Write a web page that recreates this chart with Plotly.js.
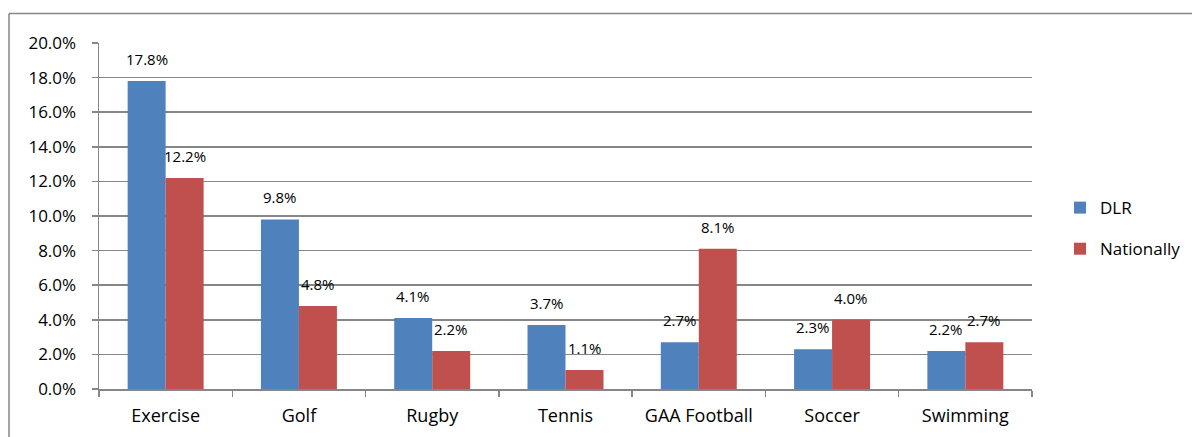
<!DOCTYPE html>
<html>
<head>
<meta charset="utf-8">
<script src="https://cdn.plot.ly/plotly-3.0.1.min.js"></script>
<style>html,body{margin:0;padding:0;background:#fff;}#chart{width:1192px;height:437px;}</style>
</head>
<body>
<div id="chart"></div>
<script>
const categories = ["Exercise", "Golf", "Rugby", "Tennis", "GAA Football", "Soccer", "Swimming"];
const dlr = [17.8, 9.8, 4.1, 3.7, 2.7, 2.3, 2.2];
const nationally = [12.2, 4.8, 2.2, 1.1, 8.1, 4.0, 2.7];
const seriesNames = ["DLR", "Nationally"];
const yTickValues = [0, 2, 4, 6, 8, 10, 12, 14, 16, 18, 20];

const FONT = "Open Sans, Liberation Sans, sans-serif";
const colors = ["#4F81BD", "#C0504D"];

const traces = [dlr, nationally].map((vals, i) => ({
  type: "bar",
  name: seriesNames[i],
  x: categories,
  y: vals,
  marker: {color: colors[i], line: {width: 0}},
  legendgroup: "g" + i,
  hoverinfo: "none"
}));

const annotations = [];
[dlr, nationally].forEach((vals, i) => {
  vals.forEach((v, j) => {
    annotations.push({
      x: categories[j], y: v, xref: "x", yref: "y",
      text: v.toFixed(1) + "%", showarrow: false,
      xshift: i === 0 ? -19 : 19, yshift: 22, yanchor: "middle",
      font: {family: FONT, size: 15, color: "#000"}
    });
  });
});

const layout = {
  width: 1192, height: 437,
  margin: {l: 99, r: 160, t: 43, b: 47.5, pad: 0, autoexpand: false},
  paper_bgcolor: "#fff", plot_bgcolor: "#fff",
  barmode: "group", bargap: 0.43, bargroupgap: 0,
  showlegend: true,
  legend: {x: 1.03, y: 0.575, xanchor: "left", yanchor: "top",
    font: {family: FONT, size: 17, color: "#000"}, tracegroupgap: 16,
    bgcolor: "rgba(0,0,0,0)"},
  xaxis: {
    type: "category", tickson: "boundaries", ticks: "outside", ticklen: 6,
    tickcolor: "#868686", tickwidth: 1.5,
    showline: true, linecolor: "#868686", linewidth: 1.5,
    showgrid: false, zeroline: false, ticklabelstandoff: 10,
    tickfont: {family: FONT, size: 18, color: "#000"},
    fixedrange: true
  },
  yaxis: {
    range: [0, 20], tickvals: yTickValues,
    ticktext: yTickValues.map(v => v.toFixed(1) + "%"),
    ticks: "outside", ticklen: 6, tickcolor: "#868686", tickwidth: 1.5,
    showline: true, linecolor: "#868686", linewidth: 1.5,
    showgrid: true, gridcolor: "#868686", gridwidth: 1.5,
    zeroline: false, ticklabelstandoff: 12,
    tickfont: {family: FONT, size: 17, color: "#000"},
    fixedrange: true
  },
  annotations: annotations,
  shapes: [
    {type: "line", xref: "paper", yref: "paper", x0: (9 - 99) / 933, x1: (9 - 99) / 933,
     y0: 1 + (43 - 13.5) / 346.5, y1: -0.2, line: {color: "#868686", width: 1.5}},
    {type: "line", xref: "paper", yref: "paper", x0: (9 - 99) / 933, x1: 1.3,
     y0: 1 + (43 - 13.5) / 346.5, y1: 1 + (43 - 13.5) / 346.5, line: {color: "#868686", width: 1.5}}
  ],
  hovermode: false
};

Plotly.newPlot("chart", traces, layout, {displayModeBar: false, staticPlot: true});
</script>
</body>
</html>
